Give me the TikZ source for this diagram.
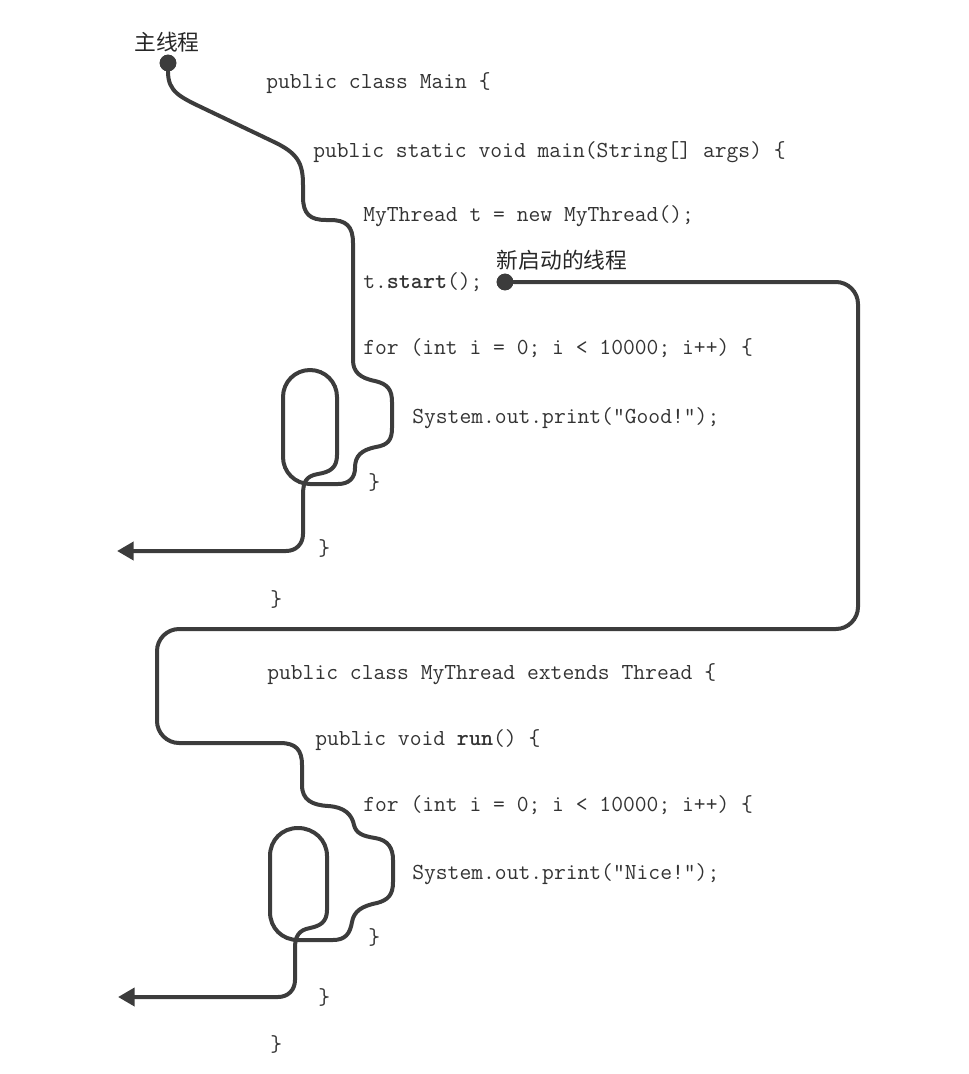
\documentclass[tikz,border=0pt]{standalone}
\usepackage{fontspec}
\newfontfamily\cjk{Noto Sans CJK SC}
\usetikzlibrary{arrows.meta}
\definecolor{pathc}{HTML}{3C3C3C}
\definecolor{codec}{HTML}{333333}
\begin{document}
\begin{tikzpicture}[x=0.75pt,y=-0.75pt,
  code/.style={font=\ttfamily\fontsize{17.2pt}{19pt}\selectfont, text=codec, anchor=base west, inner sep=0pt},
  cjklabel/.style={font=\cjk\fontsize{16.3pt}{19pt}\selectfont, text=black!85, inner sep=0pt},
  dot/.style={circle, fill=pathc, minimum size=12.5pt, inner sep=0pt},
  thread/.style={draw=pathc, line width=3pt, line cap=round, line join=round},
  tip/.style={-{Triangle[length=12.5pt,width=13.5pt]}}
]
\useasboundingbox (0,0) rectangle (968,1074);

% code lines
\node[code] (c1) at (266,89) {public class Main \{};
\node[code] (c2) at (313,157) {public static void main(String[] args) \{};
\node[code] (c3) at (363,221) {MyThread t = new MyThread();};
\node[code] (c4) at (363,288) {t.\textbf{start}();};
\node[code] (c5) at (363,354) {for (int i = 0; i < 10000; i++) \{};
\node[code] (c6) at (412,423) {System.out.print("Good!");};
\node[code] (c7) at (368,489) {\}};
\node[code] (c8) at (318,555) {\}};
\node[code] (c9) at (270,606) {\}};
\node[code] (d1) at (267,679) {public class MyThread extends Thread \{};
\node[code] (d2) at (315,745) {public void \textbf{run}() \{};
\node[code] (d3) at (363,811) {for (int i = 0; i < 10000; i++) \{};
\node[code] (d4) at (412,879) {System.out.print("Nice!");};
\node[code] (d5) at (368,944) {\}};
\node[code] (d6) at (318,1004) {\}};
\node[code] (d7) at (270,1051) {\}};

% labels
\node[cjklabel] (lmain) at (167,42) {主线程};
\node[cjklabel] (lnew) at (562,260) {新启动的线程};

% start dots and end points
\node[dot] (mstart) at (168,63) {};
\node[dot] (tstart) at (505,282) {};
\coordinate (mend) at (117,551);
\coordinate (tend) at (118,997);

% main thread
\draw[thread, tip] (mstart) .. controls (168,92) and (180,97) .. (205,109) -- (272,141)
  .. controls (298,153) and (303,163) .. (303,185) -- (303,197)
  .. controls (303,214) and (310,220) .. (326,220) -- (330,220)
  .. controls (346,220) and (353,226) .. (353,243) -- (353,360)
  .. controls (353,372) and (360,378) .. (375,381)
  .. controls (388,384) and (392,390) .. (392,402) -- (392,428)
  .. controls (392,440) and (388,445) .. (376,447)
  .. controls (361,450) and (355,456) .. (355,468)
  .. controls (355,478) and (349,484) .. (338,484) -- (310,484)
  .. controls (295,484) and (283,472) .. (283,457) -- (283,397)
  .. controls (283,382) and (295,370) .. (310,370)
  .. controls (325,370) and (337,382) .. (337,397) -- (337,455)
  .. controls (337,468) and (330,472) .. (318,474)
  .. controls (306,476) and (303,482) .. (303,495) -- (303,534)
  .. controls (303,544) and (296,551) .. (286,551) -- (mend);

% new thread
\draw[thread, tip] (tstart) -- (836,282)
  .. controls (848,282) and (858,292) .. (858,304) -- (858,607)
  .. controls (858,619) and (848,629) .. (836,629) -- (179,629)
  .. controls (167,629) and (157,639) .. (157,651) -- (157,721)
  .. controls (157,733) and (167,743) .. (179,743) -- (280,743)
  .. controls (296,743) and (302,750) .. (302,765) -- (302,785)
  .. controls (302,800) and (312,805) .. (328,806)
  .. controls (345,807) and (352,815) .. (354,825)
  .. controls (356,833) and (362,836) .. (375,838)
  .. controls (388,840) and (393,848) .. (393,860) -- (393,882)
  .. controls (393,895) and (388,900) .. (377,903)
  .. controls (362,906) and (354,911) .. (352,922)
  .. controls (350,934) and (345,940) .. (333,940) -- (298,940)
  .. controls (282,940) and (270,928) .. (270,912) -- (270,856)
  .. controls (270,840) and (282,828) .. (298,828)
  .. controls (314,828) and (327,840) .. (327,856) -- (327,910)
  .. controls (327,922) and (320,926) .. (310,928)
  .. controls (299,930) and (295,936) .. (295,948) -- (295,980)
  .. controls (295,990) and (288,997) .. (278,997) -- (tend);

\node[dot] at (mstart) {};
\node[dot] at (tstart) {};
\end{tikzpicture}
\end{document}
